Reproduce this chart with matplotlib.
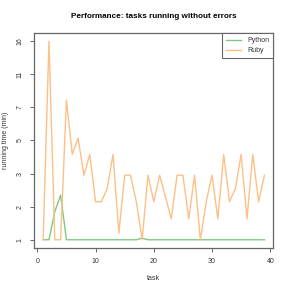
import numpy as np
import matplotlib
matplotlib.use("Agg")
import matplotlib.pyplot as plt

tasks = list(range(1, 40))
python_min = [1, 1, 1.85, 2.35] + [1] * 13 + [1.05] + [1] * 21
ruby_min = [1, 16, 1, 1, 7.9, 4.15, 5.15, 2.95, 4.15, 2.15,
            2.15, 2.55, 4.15, 1.2, 2.95, 2.95, 2.15, 1, 2.95, 2.15,
            2.95, 2.3, 1.63, 2.95, 2.95, 1.63, 2.95, 1, 2.15, 2.95,
            1.63, 4.15, 2.15, 2.55, 4.15, 1.63, 4.15, 2.15, 2.95]
y_ticks = [1, 2, 3, 5, 7, 11, 16]
x_ticks = [0, 10, 20, 30, 40]

plt.rcParams['font.family'] = ['Liberation Sans', 'DejaVu Sans']

_vals = np.array([0.5] + y_ticks + [23.0])
_pos = np.arange(-1, len(y_ticks) + 1, dtype=float)


def fwd(v):
    return np.interp(v, _vals, _pos)


def inv(p):
    return np.interp(p, _pos, _vals)


fig = plt.figure(figsize=(2.91, 2.91), dpi=100)
ax = fig.add_axes([34.3 / 291, 1 - 247.7 / 291, 239 / 291, 214.4 / 291])
ax.set_yscale('function', functions=(fwd, inv))

green = '#7FC97F'
orange = '#FDC086'
ax.plot(tasks, python_min, color=green, lw=1.0, label='Python')
ax.plot(tasks, ruby_min, color=orange, lw=1.0, label='Ruby')

ax.set_xlim(-0.52, 40.52)
ax.set_ylim(inv(-0.24), inv(6.24))
ax.set_yticks(y_ticks)
ax.set_yticklabels([str(t) for t in y_ticks], rotation=90, va='center')
ax.yaxis.set_minor_locator(matplotlib.ticker.NullLocator())
ax.set_xticks(x_ticks)

for s in ax.spines.values():
    s.set_color('#666666')
    s.set_linewidth(0.9)
ax.tick_params(axis='both', length=3, width=0.7, color='#666666',
               labelsize=5, labelcolor='#333333', pad=4.5)

ax.set_title('Performance: tasks running without errors', fontsize=5.9,
             fontweight='bold', pad=11)
ax.set_xlabel('task', fontsize=5, color='#333333', labelpad=7)
ax.set_ylabel('running time (min)', fontsize=5, color='#333333', labelpad=6)

leg = ax.legend(loc='upper right', borderaxespad=0, fontsize=5,
                fancybox=False, handlelength=2.2, handletextpad=0.8,
                labelspacing=0.4, borderpad=0.6, framealpha=1)
leg.get_frame().set_edgecolor('#666666')
leg.get_frame().set_linewidth(0.8)
for t in leg.get_texts():
    t.set_color('#333333')

fig.savefig('out.png', dpi=100)
